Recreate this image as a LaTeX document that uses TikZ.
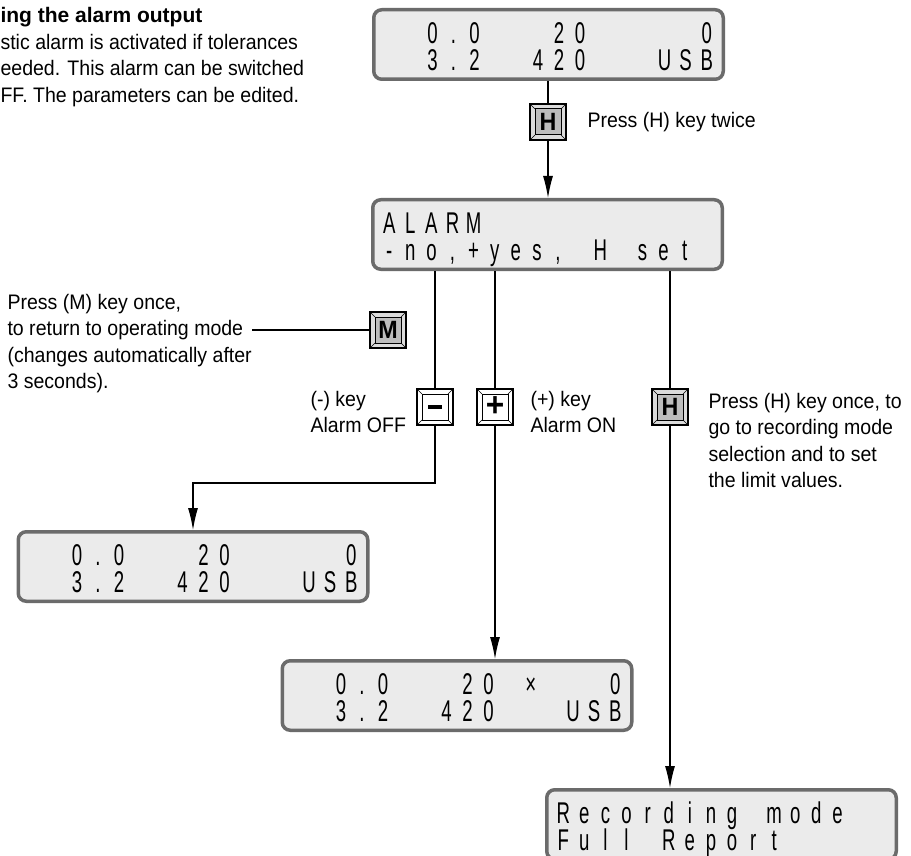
\documentclass[tikz,border=0pt]{standalone}
\usepackage{fontspec}
\setmainfont{Liberation Sans}[FakeStretch=0.93]
\newfontfamily\lcdfont{Liberation Sans}[FakeStretch=0.62]
\newfontfamily\headfont{Liberation Sans}
\usetikzlibrary{arrows.meta}

\definecolor{lcdframe}{HTML}{6B6B6B}
\definecolor{lcdfill}{HTML}{EBEBEB}
\definecolor{keygrey}{HTML}{BDBDBD}

\newlength\lcdpitch
\setlength\lcdpitch{21.1pt}
\def\lcdloop#1{%
  \ifx#1\relax\else
    \makebox[\lcdpitch]{\ifx#1*\else\smash{#1}\fi}%
    \expandafter\lcdloop
  \fi}
\newcommand\lcdrow[1]{\hbox{\vrule width0pt height22pt depth0pt\lcdloop#1\relax}}
\newcommand\lcdrows[2]{\vbox{\offinterlineskip\kern3pt\lcdrow{#1}\kern5pt\lcdrow{#2}}}
\newcommand\keyfont{\fontsize{25}{25}\selectfont\bfseries}

\begin{document}
\begin{tikzpicture}[x=1pt,y=-1pt,line width=1.1pt,
    every node/.style={inner sep=0pt},
    lcd/.style={draw=lcdframe,line width=3.5pt,fill=lcdfill,rounded corners=8pt,
      minimum width=349.5pt,minimum height=69.5pt,
      font=\lcdfont\fontsize{30}{30}\selectfont},
    keycap/.style={draw,line width=1.4pt,fill=#1!55!white,minimum size=36pt,font=\keyfont,
      path picture={
        \draw[line width=1pt,fill=#1]
          ([shift={(5pt,5pt)}]path picture bounding box.south west) rectangle
          ([shift={(-5pt,-5pt)}]path picture bounding box.north east);
        \draw[line width=0.6pt]
          (path picture bounding box.south west) -- ++(5pt,5pt)
          (path picture bounding box.north east) -- ++(-5pt,-5pt)
          (path picture bounding box.north west) -- ++(5pt,-5pt)
          (path picture bounding box.south east) -- ++(-5pt,5pt);
      }},
    keycap/.default=white,
    note/.style={anchor=north west,align=left,font=\fontsize{21}{26.5}\selectfont},
    arr/.style={-{Latex[length=22pt,width=10pt]}}]
    \useasboundingbox (0,0) rectangle (911,856);

    \node[note,font=\headfont\fontsize{21}{26.5}\selectfont\bfseries] (head) at (0,6.5) {ing the alarm output};
    \node[note] (intro) at (0,33.5) {stic alarm is activated if tolerances\\eeded. This alarm can be switched\\FF. The parameters can be edited.};

    \node[lcd] (lcdtop) at (548.5,44.5) {\lcdrows{**0.0***20*****0}{**3.2**420***USB}};
    \node[lcd] (lcdalarm) at (547.5,234.5) {\lcdrows{ALARM***********}{-no,+yes,*H*set*}};
    \node[lcd] (lcdoff) at (193,566.5) {\lcdrows{**0.0***20*****0}{**3.2**420***USB}};
    \node[lcd] (lcdon) at (457,695.5) {\lcdrows{**0.0***20*×***0}{**3.2**420***USB}};
    \node[lcd] (lcdrec) at (721.5,824.5) {\lcdrows{Recording*mode**}{Full*Report*****}};

    \node[keycap=keygrey] (keyH1) at (548,122) {H};
    \node[keycap=keygrey] (keyM) at (388,330) {M};
    \node[keycap] (keyminus) at (435,407) {\rule{14pt}{4.5pt}};
    \node[keycap] (keyplus) at (495,407) {\fontsize{34}{34}\selectfont +};
    \node[keycap=keygrey] (keyH2) at (670,407) {H};

    \node[anchor=base west,font=\fontsize{21}{26.5}\selectfont] (labH1) at (587,128) {Press (H) key twice};
    \node[note] (labM) at (7,293.5) {Press (M) key once,\\to return to operating mode\\(changes automatically after\\3 seconds).};
    \node[note] (labminus) at (310,390.5) {(-) key\\Alarm OFF};
    \node[note] (labplus) at (530,390.5) {(+) key\\Alarm ON};
    \node[note] (labH2) at (708,392.5) {Press (H) key once, to\\go to recording mode\\selection and to set\\the limit values.};

    \coordinate (mtail) at (252,330);
    \coordinate (offturn) at (435,483);

    \draw (lcdtop.south -| keyH1) -- (keyH1.north);
    \draw[arr] (keyH1.south) -- (keyH1.south |- lcdalarm.north);
    \draw (lcdalarm.south -| keyminus) -- (keyminus.north);
    \draw (lcdalarm.south -| keyplus) -- (keyplus.north);
    \draw (lcdalarm.south -| keyH2) -- (keyH2.north);
    \draw (mtail) -- (keyM.west);
    \draw[arr] (keyminus.south) -- (offturn) -| (lcdoff.north);
    \draw[arr] (keyplus.south) -- (keyplus.south |- lcdon.north);
    \draw[arr] (keyH2.south) -- (keyH2.south |- lcdrec.north);
\end{tikzpicture}
\end{document}
